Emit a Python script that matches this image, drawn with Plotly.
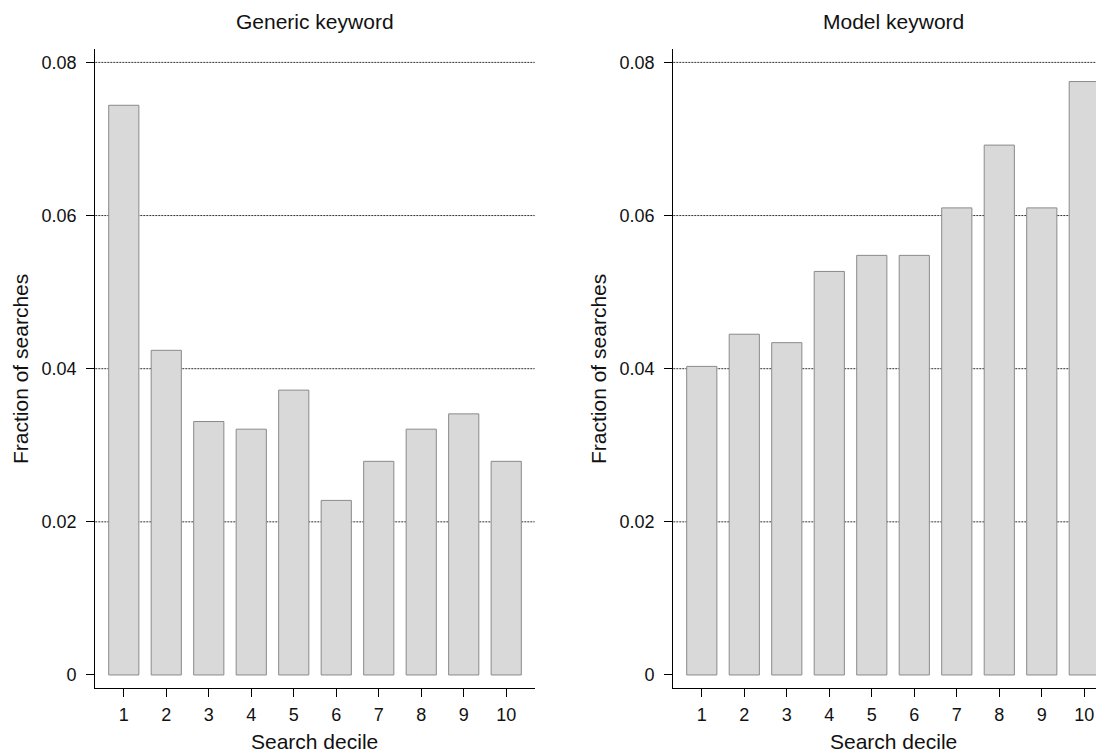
import plotly.graph_objects as go

# ---- data ----
deciles = [1, 2, 3, 4, 5, 6, 7, 8, 9, 10]
tick_labels = ["1", "2", "3", "4", "5", "6", "7", "8", "9", "10"]
generic_values = [0.0744, 0.0424, 0.0331, 0.0321, 0.0372, 0.0228, 0.0279, 0.0321, 0.0341, 0.0279]
model_values = [0.0403, 0.0445, 0.0434, 0.0527, 0.0548, 0.0548, 0.0610, 0.0692, 0.0610, 0.0775]
y_ticks = [0, 0.02, 0.04, 0.06, 0.08]
y_tick_labels = ["0", "0.02", "0.04", "0.06", "0.08"]
grid_values = [0.02, 0.04, 0.06, 0.08]
panel_titles = ["Generic keyword", "Model keyword"]
x_title = "Search decile"
y_title = "Fraction of searches"

# page is 1104x755, the figure sits inside the default 8px body margin
OFF = 8
W, H = 1104 - OFF, 755 - OFF
MT = 49 - OFF
MB = H - (688 - OFF)
ML, MR = 0, 0
FONT = "Liberation Sans, Arial, Helvetica, sans-serif"

def px_x(p):  # page px -> paper x
    return (p - OFF) / W

def px_y(p):  # page px -> paper y
    return (H - MB - (p - OFF)) / (H - MT - MB)

fig = go.Figure()

bar_style = dict(marker=dict(color="#d9d9d9", line=dict(color="#8a8a8a", width=1)), width=0.71,
                 showlegend=False, hoverinfo="x+y")
fig.add_trace(go.Bar(x=deciles, y=generic_values, xaxis="x", yaxis="y", **bar_style))
fig.add_trace(go.Bar(x=deciles, y=model_values, xaxis="x2", yaxis="y2", **bar_style))

xaxis_common = dict(
    tickmode="array", tickvals=deciles, ticktext=tick_labels,
    showline=True, linecolor="black", linewidth=1.3,
    ticks="outside", ticklen=8, tickwidth=1.3, tickcolor="black",
    showgrid=False, zeroline=False,
    tickfont=dict(family=FONT, size=18, color="#111"),
    ticklabelstandoff=2, fixedrange=True,
)
yaxis_common = dict(
    range=[-0.0017, 0.08175],
    tickmode="array", tickvals=y_ticks, ticktext=y_tick_labels,
    showline=True, linecolor="black", linewidth=1.3,
    ticks="outside", ticklen=8, tickwidth=1.3, tickcolor="black",
    showgrid=False, zeroline=False,
    tickfont=dict(family=FONT, size=18, color="#111"),
    ticklabelstandoff=6, fixedrange=True,
)

fig.update_layout(
    width=W, height=H,
    margin=dict(l=ML, r=MR, t=MT, b=MB, pad=0),
    paper_bgcolor="white", plot_bgcolor="white",
    xaxis=dict(domain=[px_x(95.3), px_x(534.7)], range=[0.33, 10.67], anchor="y", **xaxis_common),
    yaxis=dict(domain=[0, 1], anchor="x", **yaxis_common),
    xaxis2=dict(domain=[px_x(673.3), 1.0], range=[0.33, 0.33 + (1104 - 673.3) / 42.5], anchor="y2", **xaxis_common),
    yaxis2=dict(domain=[0, 1], anchor="x2", **yaxis_common),
)

# dotted horizontal gridlines (no line at zero)
for xr, yr in [("x", "y"), ("x2", "y2")]:
    for v in grid_values:
        fig.add_shape(type="line", xref=f"{xr} domain", yref=yr, x0=0, x1=1, y0=v, y1=v,
                      line=dict(color="#333", width=1, dash="2px,1px"), layer="below")

# titles
centers = [314.7, 893.3]
ylab_x = [20, 598]
for i in range(2):
    fig.add_annotation(text=panel_titles[i], xref="paper", yref="paper",
                       x=px_x(centers[i]), y=px_y(21), xanchor="center", yanchor="middle",
                       showarrow=False, font=dict(family=FONT, size=21, color="#111"))
    fig.add_annotation(text=x_title, xref="paper", yref="paper",
                       x=px_x(centers[i]), y=px_y(742), xanchor="center", yanchor="middle",
                       showarrow=False, font=dict(family=FONT, size=21, color="#111"))
    fig.add_annotation(text=y_title, xref="paper", yref="paper", textangle=-90,
                       x=px_x(ylab_x[i]), y=px_y(369), xanchor="center", yanchor="middle",
                       showarrow=False, font=dict(family=FONT, size=21, color="#111"))

fig.write_html("out.html")
